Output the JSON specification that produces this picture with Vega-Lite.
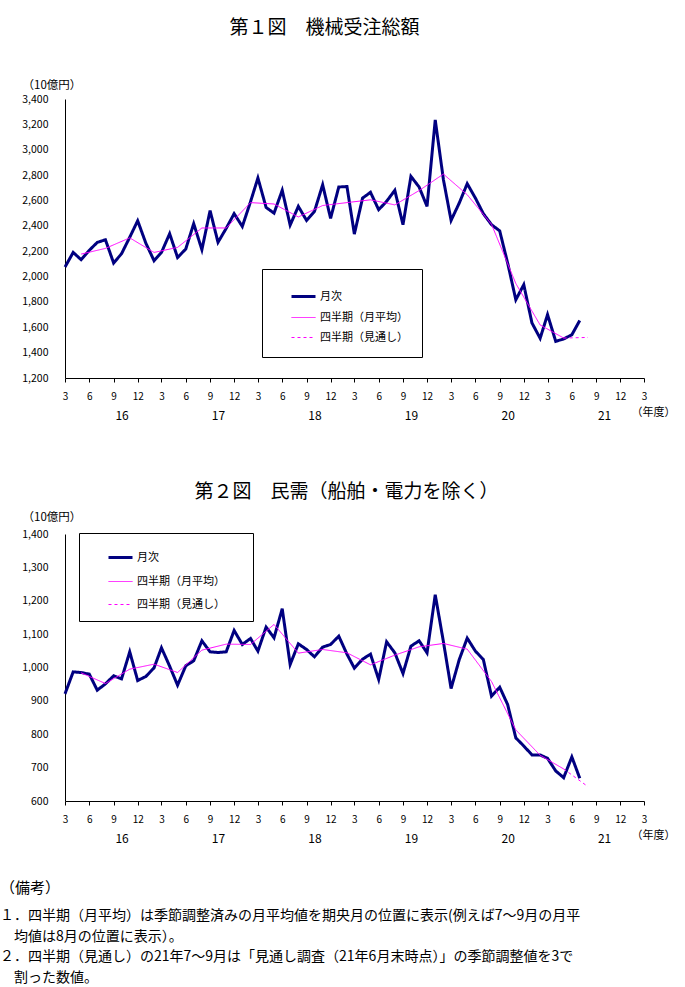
{
  "$schema": "https://vega.github.io/schema/vega-lite/v6.json",
  "background": "white",
  "padding": {"left": 0, "top": 19, "right": 5, "bottom": 5},
  "config": {
    "font": "Noto Sans CJK JP",
    "view": {"stroke": null},
    "axis": {"labelFont": "Noto Sans CJK JP", "titleFont": "Noto Sans CJK JP", "domainColor": "black", "tickColor": "black", "labelColor": "black", "titleColor": "black", "grid": false, "domainWidth": 1, "titleFontWeight": "normal"},
    "title": {"font": "Noto Sans CJK JP", "color": "black", "fontWeight": "normal", "subtitleFont": "Noto Sans CJK JP", "subtitleColor": "black"},
    "legend": {"labelFont": "Noto Sans CJK JP", "labelColor": "black"}
  },
  "resolve": {"scale": {"color": "independent", "strokeWidth": "independent", "strokeDash": "independent"}, "legend": {"color": "independent", "strokeWidth": "independent", "strokeDash": "independent"}},
  "datasets": {
    "c1": [
      {"date": "2016-03-01", "series": "月次", "value": 2075},
      {"date": "2016-04-01", "series": "月次", "value": 2190},
      {"date": "2016-05-01", "series": "月次", "value": 2133},
      {"date": "2016-06-01", "series": "月次", "value": 2207},
      {"date": "2016-07-01", "series": "月次", "value": 2269},
      {"date": "2016-08-01", "series": "月次", "value": 2290},
      {"date": "2016-09-01", "series": "月次", "value": 2107},
      {"date": "2016-10-01", "series": "月次", "value": 2180},
      {"date": "2016-11-01", "series": "月次", "value": 2310},
      {"date": "2016-12-01", "series": "月次", "value": 2440},
      {"date": "2017-01-01", "series": "月次", "value": 2263},
      {"date": "2017-02-01", "series": "月次", "value": 2125},
      {"date": "2017-03-01", "series": "月次", "value": 2190},
      {"date": "2017-04-01", "series": "月次", "value": 2338},
      {"date": "2017-05-01", "series": "月次", "value": 2150},
      {"date": "2017-06-01", "series": "月次", "value": 2217},
      {"date": "2017-07-01", "series": "月次", "value": 2417},
      {"date": "2017-08-01", "series": "月次", "value": 2212},
      {"date": "2017-09-01", "series": "月次", "value": 2520},
      {"date": "2017-10-01", "series": "月次", "value": 2270},
      {"date": "2017-11-01", "series": "月次", "value": 2380},
      {"date": "2017-12-01", "series": "月次", "value": 2496},
      {"date": "2018-01-01", "series": "月次", "value": 2395},
      {"date": "2018-02-01", "series": "月次", "value": 2590},
      {"date": "2018-03-01", "series": "月次", "value": 2777},
      {"date": "2018-04-01", "series": "月次", "value": 2545},
      {"date": "2018-05-01", "series": "月次", "value": 2500},
      {"date": "2018-06-01", "series": "月次", "value": 2680},
      {"date": "2018-07-01", "series": "月次", "value": 2406},
      {"date": "2018-08-01", "series": "月次", "value": 2553},
      {"date": "2018-09-01", "series": "月次", "value": 2443},
      {"date": "2018-10-01", "series": "月次", "value": 2514},
      {"date": "2018-11-01", "series": "月次", "value": 2724},
      {"date": "2018-12-01", "series": "月次", "value": 2459},
      {"date": "2019-01-01", "series": "月次", "value": 2706},
      {"date": "2019-02-01", "series": "月次", "value": 2710},
      {"date": "2019-03-01", "series": "月次", "value": 2335},
      {"date": "2019-04-01", "series": "月次", "value": 2619},
      {"date": "2019-05-01", "series": "月次", "value": 2664},
      {"date": "2019-06-01", "series": "月次", "value": 2527},
      {"date": "2019-07-01", "series": "月次", "value": 2593},
      {"date": "2019-08-01", "series": "月次", "value": 2680},
      {"date": "2019-09-01", "series": "月次", "value": 2409},
      {"date": "2019-10-01", "series": "月次", "value": 2790},
      {"date": "2019-11-01", "series": "月次", "value": 2706},
      {"date": "2019-12-01", "series": "月次", "value": 2553},
      {"date": "2020-01-01", "series": "月次", "value": 3235},
      {"date": "2020-02-01", "series": "月次", "value": 2764},
      {"date": "2020-03-01", "series": "月次", "value": 2443},
      {"date": "2020-04-01", "series": "月次", "value": 2580},
      {"date": "2020-05-01", "series": "月次", "value": 2732},
      {"date": "2020-06-01", "series": "月次", "value": 2619},
      {"date": "2020-07-01", "series": "月次", "value": 2496},
      {"date": "2020-08-01", "series": "月次", "value": 2409},
      {"date": "2020-09-01", "series": "月次", "value": 2360},
      {"date": "2020-10-01", "series": "月次", "value": 2107},
      {"date": "2020-11-01", "series": "月次", "value": 1817},
      {"date": "2020-12-01", "series": "月次", "value": 1936},
      {"date": "2021-01-01", "series": "月次", "value": 1634},
      {"date": "2021-02-01", "series": "月次", "value": 1513},
      {"date": "2021-03-01", "series": "月次", "value": 1700},
      {"date": "2021-04-01", "series": "月次", "value": 1489},
      {"date": "2021-05-01", "series": "月次", "value": 1508},
      {"date": "2021-06-01", "series": "月次", "value": 1541},
      {"date": "2021-07-01", "series": "月次", "value": 1654},
      {"date": "2016-05-01", "series": "四半期（月平均）", "value": 2177},
      {"date": "2016-08-01", "series": "四半期（月平均）", "value": 2222},
      {"date": "2016-11-01", "series": "四半期（月平均）", "value": 2305},
      {"date": "2017-02-01", "series": "四半期（月平均）", "value": 2190},
      {"date": "2017-05-01", "series": "四半期（月平均）", "value": 2230},
      {"date": "2017-08-01", "series": "四半期（月平均）", "value": 2383},
      {"date": "2017-11-01", "series": "四半期（月平均）", "value": 2383},
      {"date": "2018-02-01", "series": "四半期（月平均）", "value": 2583},
      {"date": "2018-05-01", "series": "四半期（月平均）", "value": 2572},
      {"date": "2018-08-01", "series": "四半期（月平均）", "value": 2470},
      {"date": "2018-11-01", "series": "四半期（月平均）", "value": 2560},
      {"date": "2019-02-01", "series": "四半期（月平均）", "value": 2583},
      {"date": "2019-05-01", "series": "四半期（月平均）", "value": 2605},
      {"date": "2019-08-01", "series": "四半期（月平均）", "value": 2565},
      {"date": "2019-11-01", "series": "四半期（月平均）", "value": 2678},
      {"date": "2020-02-01", "series": "四半期（月平均）", "value": 2808},
      {"date": "2020-05-01", "series": "四半期（月平均）", "value": 2645},
      {"date": "2020-08-01", "series": "四半期（月平均）", "value": 2412},
      {"date": "2020-11-01", "series": "四半期（月平均）", "value": 1945},
      {"date": "2021-02-01", "series": "四半期（月平均）", "value": 1618},
      {"date": "2021-05-01", "series": "四半期（月平均）", "value": 1515},
      {"date": "2021-05-01", "series": "四半期（見通し）", "value": 1515},
      {"date": "2021-08-01", "series": "四半期（見通し）", "value": 1520}
    ],
    "c2": [
      {"date": "2016-03-01", "series": "月次", "value": 921},
      {"date": "2016-04-01", "series": "月次", "value": 987},
      {"date": "2016-05-01", "series": "月次", "value": 985},
      {"date": "2016-06-01", "series": "月次", "value": 980},
      {"date": "2016-07-01", "series": "月次", "value": 932},
      {"date": "2016-08-01", "series": "月次", "value": 951},
      {"date": "2016-09-01", "series": "月次", "value": 975},
      {"date": "2016-10-01", "series": "月次", "value": 966},
      {"date": "2016-11-01", "series": "月次", "value": 1047},
      {"date": "2016-12-01", "series": "月次", "value": 961},
      {"date": "2017-01-01", "series": "月次", "value": 973},
      {"date": "2017-02-01", "series": "月次", "value": 999},
      {"date": "2017-03-01", "series": "月次", "value": 1059},
      {"date": "2017-04-01", "series": "月次", "value": 1004},
      {"date": "2017-05-01", "series": "月次", "value": 947},
      {"date": "2017-06-01", "series": "月次", "value": 1005},
      {"date": "2017-07-01", "series": "月次", "value": 1020},
      {"date": "2017-08-01", "series": "月次", "value": 1080},
      {"date": "2017-09-01", "series": "月次", "value": 1047},
      {"date": "2017-10-01", "series": "月次", "value": 1045},
      {"date": "2017-11-01", "series": "月次", "value": 1047},
      {"date": "2017-12-01", "series": "月次", "value": 1111},
      {"date": "2018-01-01", "series": "月次", "value": 1069},
      {"date": "2018-02-01", "series": "月次", "value": 1087},
      {"date": "2018-03-01", "series": "月次", "value": 1049},
      {"date": "2018-04-01", "series": "月次", "value": 1121},
      {"date": "2018-05-01", "series": "月次", "value": 1089},
      {"date": "2018-06-01", "series": "月次", "value": 1176},
      {"date": "2018-07-01", "series": "月次", "value": 1009},
      {"date": "2018-08-01", "series": "月次", "value": 1071},
      {"date": "2018-09-01", "series": "月次", "value": 1054},
      {"date": "2018-10-01", "series": "月次", "value": 1032},
      {"date": "2018-11-01", "series": "月次", "value": 1061},
      {"date": "2018-12-01", "series": "月次", "value": 1069},
      {"date": "2019-01-01", "series": "月次", "value": 1094},
      {"date": "2019-02-01", "series": "月次", "value": 1040},
      {"date": "2019-03-01", "series": "月次", "value": 998},
      {"date": "2019-04-01", "series": "月次", "value": 1025},
      {"date": "2019-05-01", "series": "月次", "value": 1040},
      {"date": "2019-06-01", "series": "月次", "value": 964},
      {"date": "2019-07-01", "series": "月次", "value": 1077},
      {"date": "2019-08-01", "series": "月次", "value": 1044},
      {"date": "2019-09-01", "series": "月次", "value": 982},
      {"date": "2019-10-01", "series": "月次", "value": 1064},
      {"date": "2019-11-01", "series": "月次", "value": 1080},
      {"date": "2019-12-01", "series": "月次", "value": 1044},
      {"date": "2020-01-01", "series": "月次", "value": 1218},
      {"date": "2020-02-01", "series": "月次", "value": 1077},
      {"date": "2020-03-01", "series": "月次", "value": 937},
      {"date": "2020-04-01", "series": "月次", "value": 1024},
      {"date": "2020-05-01", "series": "月次", "value": 1088},
      {"date": "2020-06-01", "series": "月次", "value": 1049},
      {"date": "2020-07-01", "series": "月次", "value": 1024},
      {"date": "2020-08-01", "series": "月次", "value": 914},
      {"date": "2020-09-01", "series": "月次", "value": 941},
      {"date": "2020-10-01", "series": "月次", "value": 889},
      {"date": "2020-11-01", "series": "月次", "value": 789},
      {"date": "2020-12-01", "series": "月次", "value": 765},
      {"date": "2021-01-01", "series": "月次", "value": 738},
      {"date": "2021-02-01", "series": "月次", "value": 738},
      {"date": "2021-03-01", "series": "月次", "value": 728},
      {"date": "2021-04-01", "series": "月次", "value": 690},
      {"date": "2021-05-01", "series": "月次", "value": 670},
      {"date": "2021-06-01", "series": "月次", "value": 732},
      {"date": "2021-07-01", "series": "月次", "value": 668},
      {"date": "2016-05-01", "series": "四半期（月平均）", "value": 984},
      {"date": "2016-08-01", "series": "四半期（月平均）", "value": 952},
      {"date": "2016-11-01", "series": "四半期（月平均）", "value": 995},
      {"date": "2017-02-01", "series": "四半期（月平均）", "value": 1010},
      {"date": "2017-05-01", "series": "四半期（月平均）", "value": 985},
      {"date": "2017-08-01", "series": "四半期（月平均）", "value": 1052},
      {"date": "2017-11-01", "series": "四半期（月平均）", "value": 1070},
      {"date": "2018-02-01", "series": "四半期（月平均）", "value": 1069},
      {"date": "2018-05-01", "series": "四半期（月平均）", "value": 1129},
      {"date": "2018-08-01", "series": "四半期（月平均）", "value": 1043},
      {"date": "2018-11-01", "series": "四半期（月平均）", "value": 1054},
      {"date": "2019-02-01", "series": "四半期（月平均）", "value": 1044},
      {"date": "2019-05-01", "series": "四半期（月平均）", "value": 1008},
      {"date": "2019-08-01", "series": "四半期（月平均）", "value": 1037},
      {"date": "2019-11-01", "series": "四半期（月平均）", "value": 1062},
      {"date": "2020-02-01", "series": "四半期（月平均）", "value": 1072},
      {"date": "2020-05-01", "series": "四半期（月平均）", "value": 1055},
      {"date": "2020-08-01", "series": "四半期（月平均）", "value": 958},
      {"date": "2020-11-01", "series": "四半期（月平均）", "value": 813},
      {"date": "2021-02-01", "series": "四半期（月平均）", "value": 737},
      {"date": "2021-05-01", "series": "四半期（月平均）", "value": 696},
      {"date": "2021-05-01", "series": "四半期（見通し）", "value": 696},
      {"date": "2021-08-01", "series": "四半期（見通し）", "value": 643}
    ]
  },
  "title": {
    "text": "（備考）",
    "subtitle": ["１．四半期（月平均）は季節調整済みの月平均値を期央月の位置に表示(例えば7～9月の月平", "\u200b　均値は8月の位置に表示）。", "２．四半期（見通し）の21年7～9月は「見通し調査（21年6月末時点）」の季節調整値を3で", "\u200b　割った数値。"],
    "orient": "bottom", "anchor": "start", "frame": "group",
    "fontSize": 15, "subtitleFontSize": 14, "subtitleLineHeight": 20.5, "subtitlePadding": 13,
    "offset": 37, "dx": -65
  },
  "spacing": 62,
  "vconcat": [
    {
      "width": 579, "height": 279,
      "title": {"text": "第１図　機械受注総額", "fontSize": 19, "anchor": "middle", "dx": -30, "offset": 41},
      "data": {"name": "c1"},
      "mark": {"type": "line", "strokeJoin": "miter"},
      "encoding": {
        "x": {
          "field": "date", "type": "temporal",
          "scale": {"domain": [{"year": 2016, "month": 3, "date": 1}, {"year": 2022, "month": 3, "date": 1}], "nice": false},
          "axis": {
            "values": [
              {"year": 2016, "month": 3, "date": 1}, {"year": 2016, "month": 6, "date": 1}, {"year": 2016, "month": 9, "date": 1}, {"year": 2016, "month": 12, "date": 1},
              {"year": 2017, "month": 3, "date": 1}, {"year": 2017, "month": 6, "date": 1}, {"year": 2017, "month": 9, "date": 1}, {"year": 2017, "month": 12, "date": 1},
              {"year": 2018, "month": 3, "date": 1}, {"year": 2018, "month": 6, "date": 1}, {"year": 2018, "month": 9, "date": 1}, {"year": 2018, "month": 12, "date": 1},
              {"year": 2019, "month": 3, "date": 1}, {"year": 2019, "month": 6, "date": 1}, {"year": 2019, "month": 9, "date": 1}, {"year": 2019, "month": 12, "date": 1},
              {"year": 2020, "month": 3, "date": 1}, {"year": 2020, "month": 6, "date": 1}, {"year": 2020, "month": 9, "date": 1}, {"year": 2020, "month": 12, "date": 1},
              {"year": 2021, "month": 3, "date": 1}, {"year": 2021, "month": 6, "date": 1}, {"year": 2021, "month": 9, "date": 1}, {"year": 2021, "month": 12, "date": 1},
              {"year": 2022, "month": 3, "date": 1},
              {"year": 2016, "month": 10, "date": 1}, {"year": 2017, "month": 10, "date": 1}, {"year": 2018, "month": 10, "date": 1},
              {"year": 2019, "month": 10, "date": 1}, {"year": 2020, "month": 10, "date": 1}, {"year": 2021, "month": 10, "date": 1}
            ],
            "labelExpr": "month(datum.value) == 9 ? ['', timeFormat(datum.value, '%y')] : '' + (month(datum.value) + 1)",
            "labelFontSize": {"condition": {"test": "month(datum.value) == 9", "value": 12}, "value": 10},
            "tickOpacity": {"condition": {"test": "month(datum.value) == 9", "value": 0}, "value": 1},
            "labelLineHeight": 19, "labelBaseline": "top",
            "tickSize": 4, "labelPadding": 9, "labelOverlap": false, "labelFlush": false, "labelBound": false,
            "title": "（年度）", "titleX": 588, "titleY": 34, "titleAlign": "center", "titleBaseline": "middle", "titleFontSize": 11
          }
        },
        "y": {
          "field": "value", "type": "quantitative",
          "scale": {"domain": [1200, 3400], "nice": false, "zero": false},
          "axis": {
            "values": [1200, 1400, 1600, 1800, 2000, 2200, 2400, 2600, 2800, 3000, 3200, 3400],
            "format": ",d", "ticks": false, "labelPadding": 17, "labelFontSize": 10.5,
            "title": "（10億円）", "titleAngle": 0, "titleAlign": "left", "titleBaseline": "middle", "titleX": -43, "titleY": -14, "titleFontSize": 11.5
          }
        },
        "color": {
          "field": "series", "type": "nominal",
          "scale": {"domain": ["月次", "四半期（月平均）", "四半期（見通し）"], "range": ["#000080", "#FF00FF", "#FF00FF"]},
          "legend": {"orient": "none", "legendX": 197, "legendY": 170, "title": null, "fillColor": "white", "strokeColor": "black", "padding": 14, "rowPadding": 2, "symbolType": "stroke", "symbolSize": 576, "symbolOffset": 14, "labelOffset": 3, "labelFontSize": 11, "labelExpr": "datum.label + '　'"}
        },
        "strokeWidth": {
          "field": "series", "type": "nominal",
          "scale": {"type": "ordinal", "domain": ["月次", "四半期（月平均）", "四半期（見通し）"], "range": [3, 1, 1]}
        },
        "strokeDash": {
          "field": "series", "type": "nominal",
          "scale": {"domain": ["月次", "四半期（月平均）", "四半期（見通し）"], "range": [[1, 0], [1, 0], [3, 3]]}
        }
      }
    },
    {
      "width": 579, "height": 267,
      "title": {"text": "第２図　民需（船舶・電力を除く）", "fontSize": 19, "anchor": "middle", "dx": -8, "offset": 9},
      "data": {"name": "c2"},
      "mark": {"type": "line", "strokeJoin": "miter"},
      "encoding": {
        "x": {
          "field": "date", "type": "temporal",
          "scale": {"domain": [{"year": 2016, "month": 3, "date": 1}, {"year": 2022, "month": 3, "date": 1}], "nice": false},
          "axis": {
            "values": [
              {"year": 2016, "month": 3, "date": 1}, {"year": 2016, "month": 6, "date": 1}, {"year": 2016, "month": 9, "date": 1}, {"year": 2016, "month": 12, "date": 1},
              {"year": 2017, "month": 3, "date": 1}, {"year": 2017, "month": 6, "date": 1}, {"year": 2017, "month": 9, "date": 1}, {"year": 2017, "month": 12, "date": 1},
              {"year": 2018, "month": 3, "date": 1}, {"year": 2018, "month": 6, "date": 1}, {"year": 2018, "month": 9, "date": 1}, {"year": 2018, "month": 12, "date": 1},
              {"year": 2019, "month": 3, "date": 1}, {"year": 2019, "month": 6, "date": 1}, {"year": 2019, "month": 9, "date": 1}, {"year": 2019, "month": 12, "date": 1},
              {"year": 2020, "month": 3, "date": 1}, {"year": 2020, "month": 6, "date": 1}, {"year": 2020, "month": 9, "date": 1}, {"year": 2020, "month": 12, "date": 1},
              {"year": 2021, "month": 3, "date": 1}, {"year": 2021, "month": 6, "date": 1}, {"year": 2021, "month": 9, "date": 1}, {"year": 2021, "month": 12, "date": 1},
              {"year": 2022, "month": 3, "date": 1},
              {"year": 2016, "month": 10, "date": 1}, {"year": 2017, "month": 10, "date": 1}, {"year": 2018, "month": 10, "date": 1},
              {"year": 2019, "month": 10, "date": 1}, {"year": 2020, "month": 10, "date": 1}, {"year": 2021, "month": 10, "date": 1}
            ],
            "labelExpr": "month(datum.value) == 9 ? ['', timeFormat(datum.value, '%y')] : '' + (month(datum.value) + 1)",
            "labelFontSize": {"condition": {"test": "month(datum.value) == 9", "value": 12}, "value": 10},
            "tickOpacity": {"condition": {"test": "month(datum.value) == 9", "value": 0}, "value": 1},
            "labelLineHeight": 19, "labelBaseline": "top",
            "tickSize": 4, "labelPadding": 9, "labelOverlap": false, "labelFlush": false, "labelBound": false,
            "title": "（年度）", "titleX": 588, "titleY": 34, "titleAlign": "center", "titleBaseline": "middle", "titleFontSize": 11
          }
        },
        "y": {
          "field": "value", "type": "quantitative",
          "scale": {"domain": [600, 1400], "nice": false, "zero": false},
          "axis": {
            "values": [600, 700, 800, 900, 1000, 1100, 1200, 1300, 1400],
            "format": ",d", "ticks": false, "labelPadding": 17, "labelFontSize": 10.5,
            "title": "（10億円）", "titleAngle": 0, "titleAlign": "left", "titleBaseline": "middle", "titleX": -43, "titleY": -17, "titleFontSize": 11.5
          }
        },
        "color": {
          "field": "series", "type": "nominal",
          "scale": {"domain": ["月次", "四半期（月平均）", "四半期（見通し）"], "range": ["#000080", "#FF00FF", "#FF00FF"]},
          "legend": {"orient": "none", "legendX": 14, "legendY": -1, "title": null, "fillColor": "white", "strokeColor": "black", "padding": 11, "rowPadding": 5, "symbolType": "stroke", "symbolSize": 576, "symbolOffset": 17, "labelOffset": 3, "labelFontSize": 11, "labelExpr": "datum.label + '　　\u200b'"}
        },
        "strokeWidth": {
          "field": "series", "type": "nominal",
          "scale": {"type": "ordinal", "domain": ["月次", "四半期（月平均）", "四半期（見通し）"], "range": [3, 1, 1]}
        },
        "strokeDash": {
          "field": "series", "type": "nominal",
          "scale": {"domain": ["月次", "四半期（月平均）", "四半期（見通し）"], "range": [[1, 0], [1, 0], [3, 3]]}
        }
      }
    }
  ]
}
